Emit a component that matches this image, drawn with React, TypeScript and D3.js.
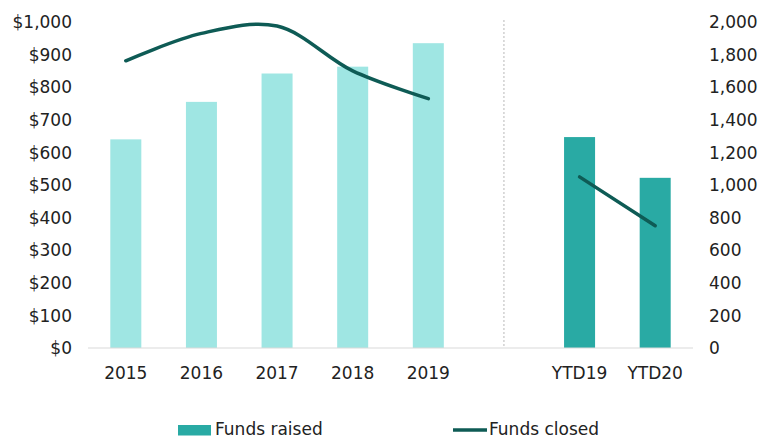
import React from "react";
import * as d3 from "d3";

const categories = ["2015", "2016", "2017", "2018", "2019", "", "YTD19", "YTD20"];
const fundsRaised = [640, 755, 842, 863, 935, null, 647, 522];
const fundsClosedAnnual = [1762, 1930, 1975, 1700, 1530];
const annualCats = ["2015", "2016", "2017", "2018", "2019"];
const fundsClosedYTD = [1050, 750];
const ytdCats = ["YTD19", "YTD20"];
const leftTicks = [0, 100, 200, 300, 400, 500, 600, 700, 800, 900, 1000];
const rightTicks = [0, 200, 400, 600, 800, 1000, 1200, 1400, 1600, 1800, 2000];

const W = 763;
const H = 439;
const M = { left: 88, right: 693, top: 22, bottom: 348 };
const FONT = "'DejaVu Sans', Verdana, sans-serif";

export default function App() {
  const x = d3.scaleBand<string>().domain(categories.map((c, i) => c || "gap" + i)).range([M.left, M.right]).paddingInner(0.59).paddingOuter(0.295);
  const yL = d3.scaleLinear().domain([0, 1000]).range([M.bottom, M.top]);
  const yR = d3.scaleLinear().domain([0, 2000]).range([M.bottom, M.top]);
  const key = (c: string, i: number) => c || "gap" + i;
  const cx = (c: string) => (x(c) as number) + x.bandwidth() / 2;

  const line = d3.line<[number, number]>().x((d) => d[0]).y((d) => d[1]).curve(d3.curveCatmullRom.alpha(0.5));
  const annualPts: [number, number][] = annualCats.map((c, i) => [cx(c), yR(fundsClosedAnnual[i])]);
  const ytdPts: [number, number][] = ytdCats.map((c, i) => [cx(c), yR(fundsClosedYTD[i])]);
  const gapX = cx("gap5");

  const fmtL = (v: number) => "$" + d3.format(",")(v);
  const fmtR = d3.format(",");

  return (
    <svg width={W} height={H} style={{ position: "absolute", left: 0, top: 0 }} fontFamily={FONT}>
      <rect width={W} height={H} fill="#fff" />
      {categories.map((c, i) => {
        const v = fundsRaised[i];
        if (v == null) return null;
        return (
          <rect key={i} x={x(key(c, i))} y={yL(v)} width={x.bandwidth()} height={yL(0) - yL(v)} fill={i < 5 ? "#9fe6e3" : "#29aaa4"} />
        );
      })}
      <line x1={M.left} x2={M.right} y1={M.bottom} y2={M.bottom} stroke="#d9d9d9" strokeWidth={1.2} />
      <line x1={gapX} x2={gapX} y1={20} y2={M.bottom} stroke="#b8b8b8" strokeWidth={1} strokeDasharray="2,2" />
      <path d={line(annualPts) || ""} fill="none" stroke="#0e5b55" strokeWidth={3.5} strokeLinecap="round" />
      <path d={line(ytdPts) || ""} fill="none" stroke="#0e5b55" strokeWidth={3.5} strokeLinecap="round" />
      {leftTicks.map((t) => (
        <text key={t} x={72} y={yL(t)} dy="0.36em" textAnchor="end" fontSize={17} fill="#222">{fmtL(t)}</text>
      ))}
      {rightTicks.map((t) => (
        <text key={t} x={709} y={yR(t)} dy="0.36em" textAnchor="start" fontSize={17} fill="#222">{fmtR(t)}</text>
      ))}
      {categories.map((c, i) => c ? (
        <text key={i} x={cx(c)} y={379} textAnchor="middle" fontSize={17} fill="#222">{c}</text>
      ) : null)}
      <rect x={178} y={425} width={33} height={10.5} fill="#29aaa4" />
      <text x={215} y={435} fontSize={17} fill="#222">Funds raised</text>
      <line x1={453} x2={487} y1={430} y2={430} stroke="#0e5b55" strokeWidth={3.5} />
      <text x={489} y={435} fontSize={17} fill="#222">Funds closed</text>
    </svg>
  );
}
